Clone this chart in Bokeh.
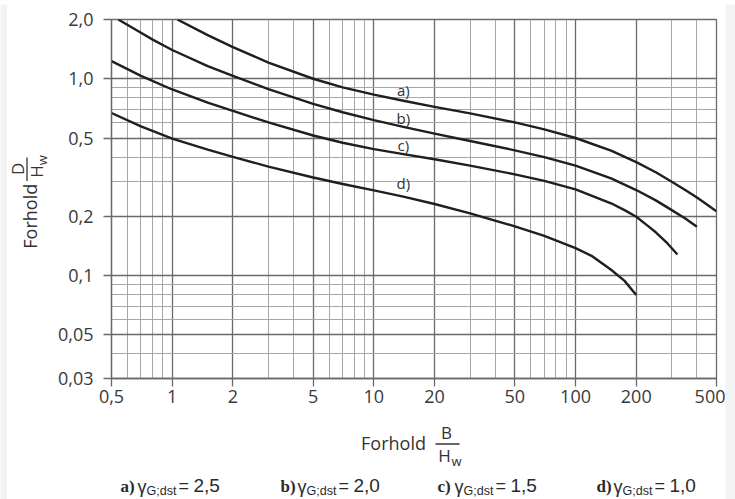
import math
from bokeh.plotting import figure
from bokeh.layouts import column, row
from bokeh.models import FixedTicker, Range1d
from bokeh.core.properties import value
from bokeh.embed import file_html
from bokeh.resources import INLINE

# ---------------- data ----------------
x_major = [0.5, 1, 2, 5, 10, 20, 50, 100, 200, 500]
x_labels = ["0,5", "1", "2", "5", "10", "20", "50", "100", "200", "500"]
x_minor = [0.6, 0.7, 0.8, 0.9, 3, 4, 6, 7, 8, 9, 30, 40, 60, 70, 80, 90, 300, 400]
y_major = [0.03, 0.05, 0.1, 0.2, 0.5, 1.0, 2.0]
y_labels = ["0,03", "0,05", "0,1", "0,2", "0,5", "1,0", "2,0"]
y_minor = [0.04, 0.06, 0.07, 0.08, 0.09, 0.3, 0.4, 0.6, 0.7, 0.8, 0.9]

a_x = [1.06, 1.5, 2, 3, 5, 7, 10, 14, 20, 30, 50, 70, 100, 150, 200, 250, 300, 350, 400, 450, 500]
a_y = [2.0, 1.667, 1.449, 1.208, 1.0, 0.904, 0.83, 0.773, 0.72, 0.667, 0.60, 0.553, 0.50,
       0.431, 0.377, 0.335, 0.30, 0.272, 0.249, 0.229, 0.212]
b_x = [0.54, 0.7, 0.8, 1, 1.5, 2, 3, 5, 7, 10, 14, 20, 30, 50, 70, 100, 150, 200, 250, 300,
       350, 400]
b_y = [2.0, 1.712, 1.58, 1.40, 1.16, 1.034, 0.886, 0.745, 0.676, 0.616, 0.569, 0.526, 0.483,
       0.433, 0.400, 0.362, 0.312, 0.272, 0.241, 0.215, 0.195, 0.177]
c_x = [0.5, 0.7, 1, 1.5, 2, 3, 5, 7, 10, 14, 20, 30, 50, 70, 100, 150, 175, 200, 225, 250,
       285, 320]
c_y = [1.23, 1.035, 0.882, 0.756, 0.686, 0.600, 0.515, 0.473, 0.439, 0.414, 0.390, 0.362, 0.327,
       0.303, 0.274, 0.233, 0.215, 0.199, 0.181, 0.166, 0.146, 0.128]
d_x = [0.5, 0.7, 1, 1.5, 2, 3, 5, 7, 10, 14, 20, 30, 50, 70, 100, 120, 150, 175, 200]
d_y = [0.67, 0.573, 0.496, 0.436, 0.401, 0.358, 0.315, 0.292, 0.271, 0.252, 0.231, 0.207, 0.178,
       0.159, 0.138, 0.126, 0.107, 0.094, 0.0797]

curve_names = ["a)", "b)", "c)", "d)"]
name_x = [14.0, 14.0, 14.0, 14.0]
name_y = [0.88, 0.635, 0.46, 0.295]

legend_letters = ["a)", "b)", "c)", "d)"]
legend_values = ["2,5", "2,0", "1,5", "1,0"]

# ---------------- styles ----------------
GRAY_BG = "#f3f3f3"
TXT = "#333333"
FONT = "Open Sans"


def blank(w, h, x0, x1, y0, y1, fill="white"):
    f = figure(width=w, height=h, x_range=Range1d(x0, x1), y_range=Range1d(y1, y0),
               output_backend="svg", toolbar_location=None,
               x_axis_location=None, y_axis_location=None,
               min_border=0, min_border_left=0, min_border_right=0,
               min_border_top=0, min_border_bottom=0)
    f.grid.visible = False
    f.outline_line_color = None
    f.background_fill_color = fill
    f.border_fill_color = fill
    return f


def txt(f, x, y, s, size, font=FONT, align="center", angle=0.0, style="normal", color=TXT):
    f.text(x=[x], y=[y], text=[s], angle=angle, text_align=align, text_baseline="middle",
           text_font=value(font), text_font_size=value(size), text_font_style=style,
           text_color=color)


# ---------------- main chart ----------------
# main canvas covers page x 50..725, y 4..420
p = figure(width=675, height=416, x_axis_type="log", y_axis_type="log",
           x_range=Range1d(0.5, 500), y_range=Range1d(0.03, 2.0),
           output_backend="svg", toolbar_location=None,
           min_border_left=61, min_border_right=9,
           min_border_top=15, min_border_bottom=42)
p.background_fill_color = "white"
p.border_fill_color = "white"
p.outline_line_color = "#6a6a6a"
p.outline_line_width = 1.3

for ax, ticks, labels in ((p.xaxis[0], x_major, x_labels), (p.yaxis[0], y_major, y_labels)):
    ax.ticker = FixedTicker(ticks=ticks, minor_ticks=[])
    ax.major_label_overrides = {t: l for t, l in zip(ticks, labels)}
    ax.axis_line_color = "#6a6a6a"
    ax.axis_line_width = 1.3
    ax.major_tick_line_color = "#6a6a6a"
    ax.major_tick_line_width = 1.3
    ax.major_tick_in = 0
    ax.major_tick_out = 8
    ax.minor_tick_in = 0
    ax.minor_tick_out = 0
    ax.major_label_text_font = FONT
    ax.major_label_text_font_size = "18px"
    ax.major_label_text_color = "#3a3a3a"
p.xaxis[0].major_label_standoff = 3
p.yaxis[0].major_label_standoff = 10

p.xgrid.ticker = FixedTicker(ticks=x_major, minor_ticks=x_minor)
p.ygrid.ticker = FixedTicker(ticks=y_major, minor_ticks=y_minor)
for g in (p.xgrid, p.ygrid):
    g.grid_line_color = "#6a6a6a"
    g.grid_line_width = 1.3
    g.minor_grid_line_color = "#a6a6a6"
    g.minor_grid_line_width = 1.0

for xs, ys in ((a_x, a_y), (b_x, b_y), (c_x, c_y), (d_x, d_y)):
    p.line(xs, ys, line_color="#1f1f1f", line_width=2.4, line_join="round")

p.text(x=name_x, y=name_y, text=curve_names, text_align="center", text_baseline="middle",
       text_font=value(FONT), text_font_size=value("15px"), text_color=TXT)

# ---------------- y axis title (page x 7..50, y 4..420) ----------------
py = blank(43, 416, 7, 50, 4, 420)
ROT = math.pi / 2
txt(py, 29, 232, "Forhold", "18px", angle=ROT)
txt(py, 17, 177, "D", "17px", angle=ROT)
py.segment(x0=[26.5], y0=[164], x1=[26.5], y1=[191], line_color=TXT, line_width=1.3)
txt(py, 36, 180, "H", "17px", angle=ROT)
txt(py, 41, 167, "w", "13px", angle=ROT)

# ---------------- bottom: x title + legend (page x 7..725, y 420..499) ----------------
pb = blank(718, 79, 7, 725, 420, 499)
txt(pb, 393, 442, "Forhold", "18px")
txt(pb, 446, 432, "B", "17px")
pb.segment(x0=[435], y0=[443.5], x1=[459], y1=[443.5], line_color=TXT, line_width=1.3)
txt(pb, 444, 455, "H", "17px")
txt(pb, 456, 460, "w", "13px")

legend_x0 = [120, 280, 437, 596]
LEG = "#2a2a2a"
SANS = "Liberation Sans"
for x0, let, val in zip(legend_x0, legend_letters, legend_values):
    txt(pb, x0, 486, let, "17px", font="Liberation Serif", align="left", style="bold", color=LEG)
    txt(pb, x0 + 17, 486, "\u03b3", "18px", font=SANS, align="left", color=LEG)
    txt(pb, x0 + 26, 490, "G;dst", "12.5px", font=SANS, align="left", color=LEG)
    txt(pb, x0 + 58, 485, "=", "18px", font=SANS, align="left", color=LEG)
    txt(pb, x0 + 73, 485, val, "19px", font=SANS, align="left", color=LEG)

# ---------------- gray page frame ----------------
top = blank(735, 4, 0, 735, 0, 4, fill=GRAY_BG)
left = blank(7, 495, 0, 7, 4, 499, fill=GRAY_BG)
right = blank(10, 495, 725, 735, 4, 499, fill=GRAY_BG)

content = column(row(py, p), pb)
layout = column(top, row(left, content, right))

open("out.html", "w").write(file_html(layout, INLINE))
